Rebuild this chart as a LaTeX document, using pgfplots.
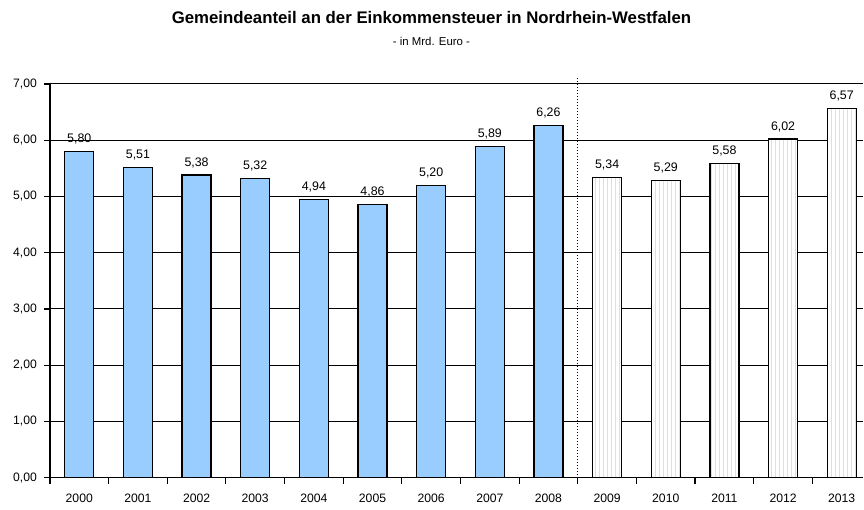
\documentclass[border=0pt]{standalone}
\usepackage{pgfplots}
\pgfplotsset{compat=1.18}
\usepackage{fontspec}
\setmainfont{Liberation Sans}
\usetikzlibrary{patterns.meta}
\definecolor{barblue}{HTML}{99CCFF}
\begin{document}
\begin{tikzpicture}
\begin{axis}[
  scale only axis,
  width=407pt, height=197pt,
  xmin=-0.5, xmax=13.37,
  ymin=0, ymax=7,
  axis lines*=left,
  axis line style={black, line width=0.6pt},
  ymajorgrids,
  grid style={black, line width=0.5pt},
  ytick={0,1,...,7},
  xtick={0,...,13},
  xticklabels={2000,2001,2002,2003,2004,2005,2006,2007,2008,2009,2010,2011,2012,2013},
  x tick style={draw=none},
  y tick style={black, line width=0.6pt},
  tick align=outside,
  major tick length=3pt,
  extra x ticks={-0.5,0.5,...,12.5},
  extra x tick labels={},
  extra x tick style={x tick style={draw=black, line width=0.6pt}, major tick length=3pt, grid=none},
  tick label style={font=\fontsize{6.1pt}{7pt}\selectfont},
  yticklabel style={/pgf/number format/.cd, fixed, fixed zerofill, precision=2, use comma},
  /pgf/number format/assume math mode=true,
  xticklabel style={yshift=-1.5pt},
  ybar, bar width=14.5pt,
  nodes near coords,
  nodes near coords style={font=\fontsize{6.2pt}{7pt}\selectfont, /pgf/number format/.cd, fixed, fixed zerofill, precision=2, use comma, assume math mode=true},
  clip=false,
]
\addplot[bar shift=0pt, fill=barblue, draw=black, line width=0.6pt] coordinates {
(0,5.80) (1,5.51) (2,5.38) (3,5.32) (4,4.94) (5,4.86) (6,5.20) (7,5.89) (8,6.26)};
\addplot[bar shift=0pt, fill=white, draw=black, line width=0.6pt,
  postaction={pattern={Lines[angle=90, distance=2pt, line width=0.8pt]}, pattern color=gray!25}] coordinates {
(9,5.34) (10,5.29) (11,5.58) (12,6.02) (13,6.57)};
\draw[black, densely dotted, line width=0.5pt] (axis cs:8.5,0) -- (axis cs:8.5,7.1);
\path (axis description cs:-0.0614,-0.0685) rectangle (axis description cs:1.0,1.2132);
\node[font=\bfseries\fontsize{8.4pt}{9pt}\selectfont] at (axis description cs:0.469,1.1675) {Gemeindeanteil an der Einkommensteuer in Nordrhein-Westfalen};
\node[font=\fontsize{5.7pt}{6pt}\selectfont] at (axis description cs:0.469,1.109) {- in Mrd. Euro -};
\end{axis}
\end{tikzpicture}
\end{document}
